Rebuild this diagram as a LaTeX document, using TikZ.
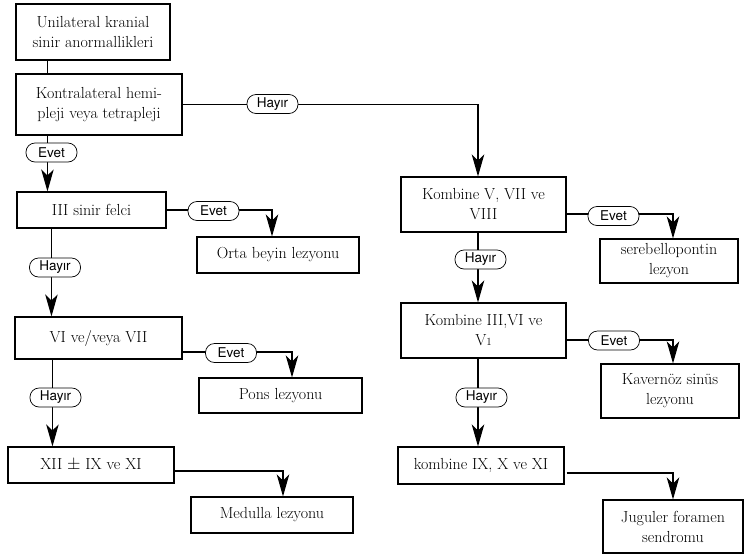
\documentclass[tikz,border=0pt]{standalone}
\usepackage{fontspec}
\newfontfamily\labelfont{TeX Gyre Heros}
\usetikzlibrary{arrows.meta,calc}
\begin{document}
\begin{tikzpicture}[x=1pt,y=-1pt,
  box/.style={draw, line width=1.1pt, align=center, inner sep=0pt,
    font=\fontsize{16}{20}\selectfont},
  ans/.style={draw, line width=0.7pt, fill=white, rounded corners=9pt,
    minimum width=51pt, minimum height=19pt, inner sep=0pt,
    font=\labelfont\fontsize{13.5}{14}\selectfont},
  link/.style={line width=1.1pt},
  arr/.style={link, -{Stealth[length=22pt,width=12.5pt,inset=6pt]}}]
\useasboundingbox (0,0) rectangle (745,555);

% left column
\node[box, minimum width=154pt, minimum height=56pt] (b1) at (93,32)
  {Unilateral kranial\\sinir anormallikleri};
\node[box, minimum width=166pt, minimum height=61pt] (b2) at (99,104.5)
  {Kontralateral hemi-\\pleji veya tetrapleji};
\node[box, minimum width=149pt, minimum height=36pt] (b3) at (91.5,210)
  {III sinir felci};
\node[box, minimum width=167pt, minimum height=42pt] (b4) at (98.5,338)
  {VI ve/veya VII};
\node[box, minimum width=166pt, minimum height=36pt] (b5) at (91,465)
  {XII $\pm$ IX ve XI};

% lesion boxes of the left column
\node[box, minimum width=162pt, minimum height=36pt] (o1) at (278,255)
  {Orta beyin lezyonu};
\node[box, minimum width=163pt, minimum height=35pt] (o2) at (280.5,395.5)
  {Pons lezyonu};
\node[box, minimum width=162pt, minimum height=36pt] (o3) at (272,515)
  {Medulla lezyonu};

% right column
\node[box, minimum width=165pt, minimum height=55pt] (r1) at (483.5,204.5)
  {Kombine V, VII ve\\VIII};
\node[box, minimum width=165pt, minimum height=55pt] (r2) at (483.5,330.5)
  {Kombine III,VI ve\\V{\fontsize{11}{12}\selectfont 1}};
\node[box, minimum width=166pt, minimum height=37pt] (r3) at (481,465.5)
  {kombine IX, X ve XI};

\node[box, minimum width=138pt, minimum height=44pt] (s1) at (669,261)
  {serebellopontin\\lezyon};
\node[box, minimum width=138pt, minimum height=54pt] (s2) at (670,391)
  {Kavernöz sinüs\\lezyonu};
\node[box, minimum width=140pt, minimum height=53pt] (s3) at (673,526.5)
  {Juguler foramen\\sendromu};

% connectors
\draw[link] ($(b1.south west)+(32,0)$) -- ($(b2.north west)+(32,0)$);
\draw[arr] (b2.east) -| ($(r1.north)+(-5.5,0)$);
\draw[arr] ($(b2.south west)+(32,0)$) -- ($(b3.north west)+(31,0)$);
\draw[arr] (b3.east) -| ($(o1.north)+(-6,0)$);
\draw[arr] ($(b3.south west)+(35,0)$) -- ($(b4.north west)+(37,0)$);
\draw[arr] ($(b4.east)+(0,14)$) -| ($(o2.north)+(11.5,0)$);
\draw[arr] ($(b4.south west)+(38,0)$) -- ($(b5.north west)+(45,0)$);
\draw[arr] ($(b5.east)+(0,6)$) -| ($(o3.north)+(11,0)$);

\draw[arr] ($(r1.east)+(0,9.5)$) -| ($(s1.north)+(4,0)$);
\draw[arr] ($(r1.south)+(-5.5,0)$) -- ($(r2.north)+(-5.5,0)$);
\draw[arr] ($(r2.east)+(0,9.5)$) -| ($(s2.north)+(3,0)$);
\draw[arr] ($(r2.south)+(-5.5,0)$) -- ($(r3.north)+(-3,0)$);
\draw[arr] ($(r3.east)+(2,7.5)$) -| (s3.north);

% answer tags
\node[ans] (h1) at (272.5,104) {Hayır};
\node[ans] (e1) at (51.5,152.5) {Evet};
\node[ans] (e2) at (213.5,211) {Evet};
\node[ans] (h2) at (55,267.5) {Hayır};
\node[ans] (e3) at (231,353) {Evet};
\node[ans] (h3) at (55.5,397.5) {Hayır};
\node[ans] (e4) at (613.5,216) {Evet};
\node[ans] (h4) at (480.5,259.5) {Hayır};
\node[ans] (e5) at (614,340.5) {Evet};
\node[ans] (h5) at (481.5,397.5) {Hayır};
\end{tikzpicture}
\end{document}
